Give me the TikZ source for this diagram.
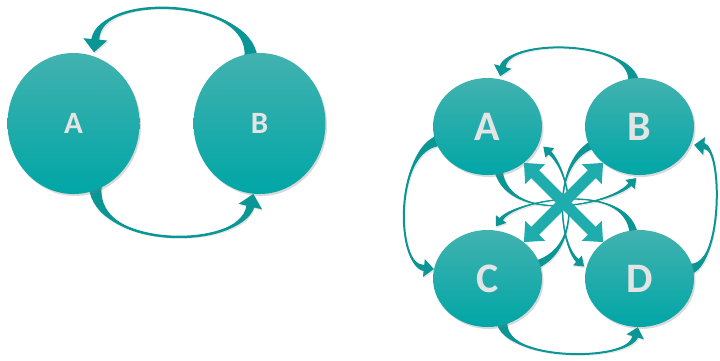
\documentclass[tikz,border=0pt]{standalone}
\usepackage{fontspec}
\setmainfont{Carlito}
\usetikzlibrary{calc,shapes.geometric,shadows,arrows.meta}
\definecolor{circtop}{RGB}{66,178,176}
\definecolor{circbot}{RGB}{0,166,166}
\definecolor{ribbonc}{RGB}{10,150,148}
\definecolor{dblc}{RGB}{30,172,172}
\definecolor{lettc}{RGB}{228,228,228}
\pgfdeclarelayer{background}
\pgfsetlayers{background,main}
\tikzset{
  bubble/.style={ellipse, inner sep=0pt, top color=circtop, bottom color=circbot,
    text=lettc, drop shadow={opacity=0.3, shadow xshift=1.5pt, shadow yshift=-2pt}},
  bigbubble/.style={bubble, minimum width=132pt, minimum height=141pt,
    font=\fontsize{31}{31}\selectfont\bfseries},
  smallbubble/.style={bubble, minimum width=109pt, minimum height=97pt,
    font=\fontsize{42}{42}\selectfont\bfseries},
  ribbon/.style={fill=ribbonc, drop shadow={opacity=0.2, shadow xshift=1pt, shadow yshift=-1.5pt}},
  ribbonline/.style={draw=ribbonc},
  dbl/.style={draw=dblc, line width=11pt,
    {Triangle[width=27pt,length=16pt]}-{Triangle[width=27pt,length=16pt]}},
}
% #1 start, #2 control 1, #3 control 2, #4 tip, #5 start half width,
% #6 end half width, #7 head half width, #8 head length, #9 core line width
\newcommand\ribbonarrow[9]{%
  \path #1 coordinate (rS) #2 coordinate (rCa) #3 coordinate (rCb) #4 coordinate (rT);
  \path ($(rT)!#8!(rCb)$) coordinate (rE);
  \fill[ribbon] ($(rS)!#5!90:(rCa)$) .. controls (rCa) and (rCb) .. ($(rE)!#6!-90:(rCb)$)
    -- ($(rE)!#7!-90:(rCb)$) -- (rT) -- ($(rE)!#7!90:(rCb)$) -- ($(rE)!#6!90:(rCb)$)
    .. controls (rCb) and (rCa) .. ($(rS)!#5!-90:(rCa)$) -- cycle;
  \draw[ribbonline, line width=#9] (rS) .. controls (rCa) and (rCb) .. (rE);
}
\begin{document}
\begin{tikzpicture}[x=1pt,y=-1pt]
\useasboundingbox (0,0) rectangle (720,360);
% left pair
\node[bigbubble] (lA) at (73.5,123.5) {A};
\node[bigbubble] (lB) at (259.5,123.5) {B};
% right group
\node[smallbubble] (A) at (487.5,126.5) {A};
\node[smallbubble] (B) at (639.5,126.5) {B};
\node[smallbubble] (C) at (487.5,278.5) {C};
\node[smallbubble] (D) at (639.5,278.5) {D};
\begin{pgfonlayer}{background}
  % left arrows
  \ribbonarrow{($(lB.97)+(0,4)$)}{(251,-2)}{(100,-8)}{($(lA.73)+(0,-4)$)}{6.5pt}{4pt}{12pt}{13pt}{2.5pt}
  \ribbonarrow{($(lA.-72)+(0,-4)$)}{(94,250)}{(240,250)}{(lB.-95)}{6.5pt}{4pt}{12pt}{13pt}{2.5pt}
  % right outer arrows
  \ribbonarrow{($(B.97)+(0,4)$)}{(633,40)}{(510,38)}{($(A.75)+(0,-3)$)}{5.5pt}{3pt}{9pt}{10pt}{2pt}
  \ribbonarrow{($(C.-73)+(0,-4)$)}{(503,362)}{(628,362)}{(D.-92)}{5.5pt}{3pt}{9pt}{10pt}{2pt}
  \ribbonarrow{($(A.195)+(4,0)$)}{(395,150)}{(395,265)}{(C.170)}{5.5pt}{3pt}{9pt}{10pt}{2pt}
  \ribbonarrow{($(D.10)+(-4,0)$)}{(723,268)}{(723,148)}{($(B.-20)+(4,0)$)}{5.5pt}{3pt}{9pt}{10pt}{2pt}
  % inner thin arrows
  \ribbonarrow{($(A.-77)+(0,-3)$)}{(510,225)}{(610,205)}{($(B.-95)+(1,3)$)}{4pt}{2pt}{6.5pt}{9pt}{1.3pt}
  \ribbonarrow{($(D.97)+(0,3)$)}{(625,180)}{(515,200)}{($(C.80)+(0,-4)$)}{4pt}{2pt}{6.5pt}{9pt}{1.3pt}
  \ribbonarrow{($(B.200)+(3,0)$)}{(550,165)}{(560,245)}{($(D.165)+(-3,2)$)}{4pt}{2pt}{6.5pt}{9pt}{1.3pt}
  \ribbonarrow{($(C.15)+(-3,0)$)}{(585,245)}{(570,172)}{($(A.-22)+(6,0)$)}{4pt}{2pt}{6.5pt}{9pt}{1.3pt}
  % central double arrows
  \draw[dbl] (A) -- (D);
  \draw[dbl] (B) -- (C);
\end{pgfonlayer}
\end{tikzpicture}
\end{document}
